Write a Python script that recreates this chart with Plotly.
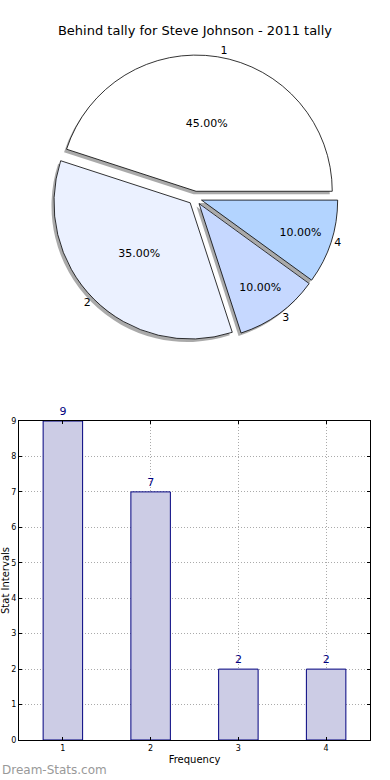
import plotly.graph_objects as go

# Data
pie_labels = ["1", "2", "3", "4"]
pie_values = [45, 35, 10, 10]
pie_colors = ["#FFFFFF", "#EBF1FF", "#C6D8FF", "#B3D4FF"]

bar_categories = [1, 2, 3, 4]
bar_values = [9, 7, 2, 2]

H = 780.0
W = 390.0
FONT = "DejaVu Sans"

# plotly counterclockwise pies begin the first slice at rotation + its own angle
start_rotation = 90 - 360 * pie_values[0] / sum(pie_values)

pull = [0.05, 0.05, 0.05, 0.05]
dx = 2.5 / W
dy = 3.0 / H
pie_dom_x = [0.015, 0.985]
pie_dom_y = [1 - 341 / H, 1 - 55 / H]

fig = go.Figure()

common = dict(labels=pie_labels, values=pie_values, sort=False, direction="counterclockwise",
              rotation=start_rotation, pull=pull, showlegend=False)

# Shadow pie
fig.add_trace(go.Pie(
    **common,
    marker=dict(colors=["rgba(100,100,100,0.55)"] * 4, line=dict(width=0)),
    textinfo="none", hoverinfo="skip",
    domain=dict(x=[pie_dom_x[0] - dx, pie_dom_x[1] - dx], y=[pie_dom_y[0] - dy, pie_dom_y[1] - dy]),
))

# Main pie with percentages inside
fig.add_trace(go.Pie(
    **common,
    marker=dict(colors=pie_colors, line=dict(color="#000000", width=0.8)),
    texttemplate="%{percent:.2%}", textposition="inside", insidetextorientation="horizontal",
    textfont=dict(family=FONT, size=11, color="#000000"),
    domain=dict(x=pie_dom_x, y=pie_dom_y),
))

# Outside labels
fig.add_trace(go.Pie(
    **common,
    marker=dict(colors=["rgba(0,0,0,0)"] * 4, line=dict(width=0)),
    texttemplate="%{label}", textposition="outside",
    textfont=dict(family=FONT, size=11, color="#000000"),
    hoverinfo="skip",
    domain=dict(x=pie_dom_x, y=pie_dom_y),
))

# Bar chart
fig.add_trace(go.Bar(
    x=bar_categories, y=bar_values, width=0.45,
    marker=dict(color="#CCCCE5", line=dict(color="#00007F", width=1)),
    text=[str(v) for v in bar_values], textposition="outside",
    textfont=dict(family=FONT, size=11, color="#00007F"),
    cliponaxis=False, showlegend=False,
    xaxis="x", yaxis="y",
))

axis_common = dict(showline=True, linecolor="#000000", linewidth=1, mirror="ticks",
                   ticks="inside", ticklen=3, tickcolor="#000000",
                   showgrid=True, gridcolor="#AAAAAA", griddash="1px,2px", gridwidth=1,
                   tickfont=dict(family=FONT, size=8), zeroline=False, automargin=False)

fig.update_layout(
    width=390, height=780,
    margin=dict(l=0, r=0, t=0, b=0, autoexpand=False),
    paper_bgcolor="white", plot_bgcolor="white",
    font=dict(family=FONT, color="#000000"),
    title=dict(text="Behind tally for Steve Johnson - 2011 tally", x=0.5, xanchor="center",
               y=1 - 30 / H, yanchor="middle", font=dict(family=FONT, size=13, color="#000000"),
               automargin=False),
    xaxis=dict(domain=[19 / W, 370 / W], range=[0.5, 4.5], tickvals=bar_categories,
               ticktext=[str(c) for c in bar_categories],
               title=dict(text="Frequency", font=dict(family=FONT, size=10), standoff=4),
               anchor="y", **axis_common),
    yaxis=dict(domain=[1 - 740 / H, 1 - 421 / H], range=[0, 9], dtick=1,
               title=dict(text="Stat Intervals", font=dict(family=FONT, size=10), standoff=2),
               anchor="x", **axis_common),
    annotations=[dict(text="Dream-Stats.com", x=0, y=1 - 770 / H, xref="paper", yref="paper",
                      xanchor="left", yanchor="middle", showarrow=False,
                      font=dict(family=FONT, size=12, color="#999999"))],
    bargap=0.5,
)

fig.write_html("out.html", config={"displayModeBar": False},
               post_script="document.body.style.margin='0';")
